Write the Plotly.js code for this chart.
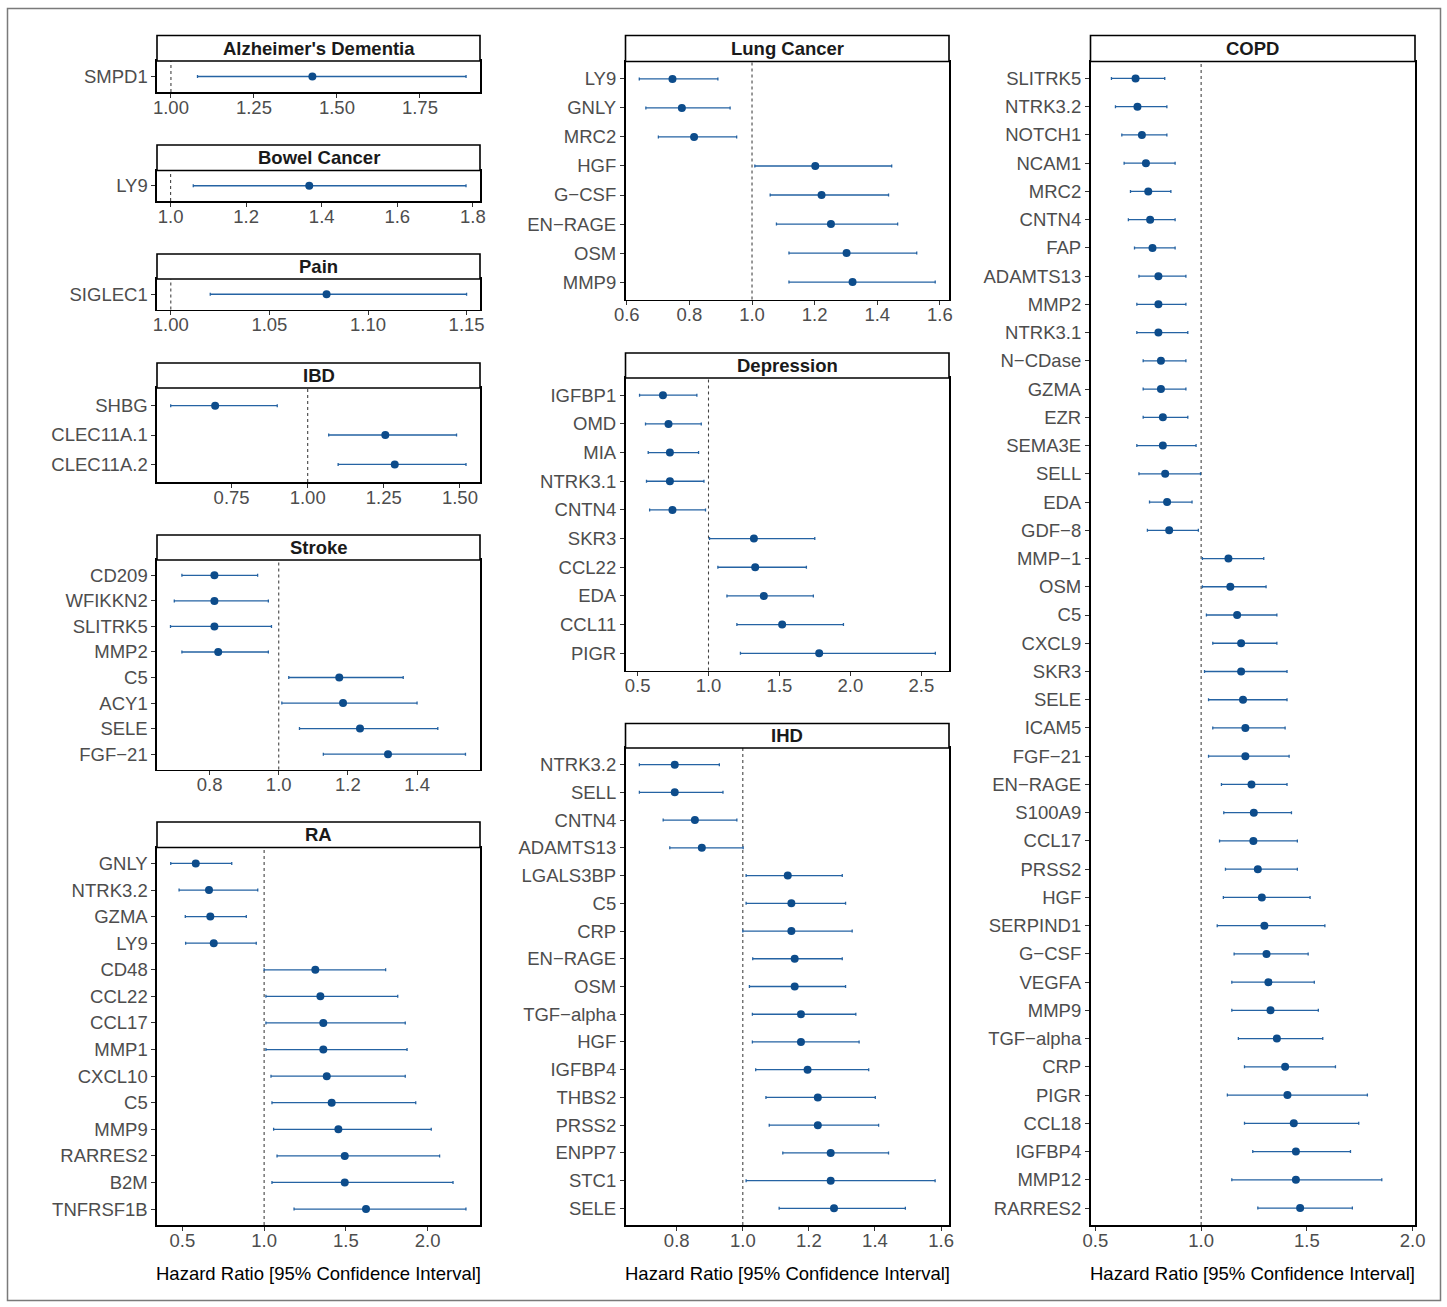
<!DOCTYPE html>
<html>
<head>
<meta charset="utf-8">
<script src="https://cdn.plot.ly/plotly-3.0.1.min.js"></script>
<style>html,body{margin:0;padding:0;background:#fff;}#chart{width:1447px;height:1307px;}</style>
</head>
<body>
<div id="chart"></div>
<script>
// ---------------- DATA ----------------
const alzNames = ["SMPD1"];
const alzHR = [1.426]; const alzLo = [1.080]; const alzHi = [1.889];

const bowelNames = ["LY9"];
const bowelHR = [1.367]; const bowelLo = [1.060]; const bowelHi = [1.782];

const painNames = ["SIGLEC1"];
const painHR = [1.079]; const painLo = [1.020]; const painHi = [1.150];

const ibdNames = ["SHBG", "CLEC11A.1", "CLEC11A.2"];
const ibdHR = [0.696, 1.255, 1.286];
const ibdLo = [0.550, 1.069, 1.100];
const ibdHi = [0.900, 1.489, 1.520];

const strokeNames = ["CD209", "WFIKKN2", "SLITRK5", "MMP2", "C5", "ACY1", "SELE", "FGF−21"];
const strokeHR = [0.814, 0.814, 0.814, 0.825, 1.175, 1.186, 1.235, 1.316];
const strokeLo = [0.720, 0.698, 0.687, 0.720, 1.029, 1.009, 1.060, 1.129];
const strokeHi = [0.939, 0.970, 0.979, 0.970, 1.360, 1.400, 1.460, 1.540];

const raNames = ["GNLY", "NTRK3.2", "GZMA", "LY9", "CD48", "CCL22", "CCL17", "MMP1", "CXCL10", "C5", "MMP9", "RARRES2", "B2M", "TNFRSF1B"];
const raHR = [0.582, 0.663, 0.671, 0.692, 1.313, 1.344, 1.362, 1.362, 1.383, 1.413, 1.454, 1.493, 1.493, 1.623];
const raLo = [0.429, 0.480, 0.518, 0.520, 1.000, 1.011, 1.011, 1.011, 1.042, 1.048, 1.058, 1.079, 1.048, 1.183];
const raHi = [0.802, 0.961, 0.891, 0.952, 1.743, 1.817, 1.863, 1.874, 1.863, 1.927, 2.022, 2.073, 2.155, 2.234];

const lungNames = ["LY9", "GNLY", "MRC2", "HGF", "G−CSF", "EN−RAGE", "OSM", "MMP9"];
const lungHR = [0.746, 0.776, 0.815, 1.202, 1.222, 1.252, 1.302, 1.321];
const lungLo = [0.640, 0.661, 0.701, 1.009, 1.058, 1.078, 1.118, 1.118];
const lungHi = [0.891, 0.930, 0.951, 1.446, 1.436, 1.465, 1.526, 1.585];

const depNames = ["IGFBP1", "OMD", "MIA", "NTRK3.1", "CNTN4", "SKR3", "CCL22", "EDA", "CCL11", "PIGR"];
const depHR = [0.679, 0.718, 0.728, 0.728, 0.746, 1.320, 1.329, 1.390, 1.519, 1.780];
const depLo = [0.514, 0.556, 0.575, 0.563, 0.585, 1.007, 1.066, 1.130, 1.200, 1.225];
const depHi = [0.918, 0.949, 0.930, 0.968, 0.979, 1.749, 1.690, 1.739, 1.951, 2.599];

const ihdNames = ["NTRK3.2", "SELL", "CNTN4", "ADAMTS13", "LGALS3BP", "C5", "CRP", "EN−RAGE", "OSM", "TGF−alpha", "HGF", "IGFBP4", "THBS2", "PRSS2", "ENPP7", "STC1", "SELE"];
const ihdHR = [0.794, 0.794, 0.855, 0.876, 1.136, 1.147, 1.147, 1.157, 1.157, 1.176, 1.176, 1.196, 1.227, 1.227, 1.266, 1.266, 1.276];
const ihdLo = [0.687, 0.687, 0.759, 0.779, 1.010, 1.010, 1.000, 1.030, 1.020, 1.029, 1.029, 1.039, 1.070, 1.080, 1.121, 1.010, 1.110];
const ihdHi = [0.929, 0.940, 0.982, 1.001, 1.301, 1.311, 1.331, 1.301, 1.311, 1.342, 1.352, 1.381, 1.401, 1.411, 1.441, 1.582, 1.492];

const copdNames = ["SLITRK5", "NTRK3.2", "NOTCH1", "NCAM1", "MRC2", "CNTN4", "FAP", "ADAMTS13", "MMP2", "NTRK3.1", "N−CDase", "GZMA", "EZR", "SEMA3E", "SELL", "EDA", "GDF−8", "MMP−1", "OSM", "C5", "CXCL9", "SKR3", "SELE", "ICAM5", "FGF−21", "EN−RAGE", "S100A9", "CCL17", "PRSS2", "HGF", "SERPIND1", "G−CSF", "VEGFA", "MMP9", "TGF−alpha", "CRP", "PIGR", "CCL18", "IGFBP4", "MMP12", "RARRES2"];
const copdHR = [0.690, 0.699, 0.720, 0.739, 0.750, 0.759, 0.770, 0.798, 0.798, 0.798, 0.810, 0.810, 0.819, 0.819, 0.830, 0.839, 0.849, 1.129, 1.138, 1.170, 1.189, 1.189, 1.198, 1.209, 1.209, 1.238, 1.249, 1.247, 1.268, 1.287, 1.299, 1.309, 1.318, 1.328, 1.358, 1.397, 1.408, 1.438, 1.448, 1.448, 1.468];
const copdLo = [0.576, 0.595, 0.625, 0.636, 0.666, 0.656, 0.685, 0.706, 0.696, 0.696, 0.726, 0.726, 0.726, 0.696, 0.706, 0.756, 0.746, 1.006, 1.006, 1.025, 1.055, 1.016, 1.035, 1.055, 1.035, 1.096, 1.107, 1.087, 1.115, 1.105, 1.076, 1.156, 1.145, 1.145, 1.176, 1.205, 1.124, 1.205, 1.244, 1.145, 1.268];
const copdHi = [0.828, 0.838, 0.838, 0.877, 0.857, 0.877, 0.877, 0.928, 0.928, 0.937, 0.928, 0.928, 0.937, 0.976, 0.997, 0.957, 0.987, 1.296, 1.307, 1.358, 1.358, 1.406, 1.406, 1.397, 1.416, 1.406, 1.427, 1.455, 1.455, 1.515, 1.585, 1.506, 1.535, 1.554, 1.575, 1.635, 1.786, 1.745, 1.706, 1.854, 1.715];

// tick labels
const ticksAlz = [1.00, 1.25, 1.50, 1.75];
const ticksBowel = [1.0, 1.2, 1.4, 1.6, 1.8];
const ticksPain = [1.00, 1.05, 1.10, 1.15];
const ticksIbd = [0.75, 1.00, 1.25, 1.50];
const ticksStroke = [0.8, 1.0, 1.2, 1.4];
const ticksRa = [0.5, 1.0, 1.5, 2.0];
const ticksLung = [0.6, 0.8, 1.0, 1.2, 1.4, 1.6];
const ticksDep = [0.5, 1.0, 1.5, 2.0, 2.5];
const ticksIhd = [0.8, 1.0, 1.2, 1.4, 1.6];
const ticksCopd = [0.5, 1.0, 1.5, 2.0];

const axisTitle = "Hazard Ratio [95% Confidence Interval]";

// ---------------- LAYOUT ----------------
const W = 1447, H = 1307;
const FONT = "Liberation Sans, Arial, Helvetica, sans-serif";
const FS = 18.5;
const PT_COLOR = "#0d4c8b";
const BAR_COLOR = "#2563a3";

const panels = [
  {title: "Alzheimer's Dementia", names: alzNames, hr: alzHR, lo: alzLo, hi: alzHi, ticks: ticksAlz, fmt: ".2f", range: [0.958, 1.931], x0: 157, x1: 480, st: 35.5, pt: 61, pb: 92},
  {title: "Bowel Cancer", names: bowelNames, hr: bowelHR, lo: bowelLo, hi: bowelHi, ticks: ticksBowel, fmt: ".1f", range: [0.964, 1.819], x0: 157, x1: 480, st: 145, pt: 170.5, pb: 201},
  {title: "Pain", names: painNames, hr: painHR, lo: painLo, hi: painHi, ticks: ticksPain, fmt: ".2f", range: [0.993, 1.1568], x0: 157, x1: 480, st: 254, pt: 279, pb: 309.5},
  {title: "IBD", names: ibdNames, hr: ibdHR, lo: ibdLo, hi: ibdHi, ticks: ticksIbd, fmt: ".2f", range: [0.505, 1.566], x0: 157, x1: 480, st: 363, pt: 388, pb: 482},
  {title: "Stroke", names: strokeNames, hr: strokeHR, lo: strokeLo, hi: strokeHi, ticks: ticksStroke, fmt: ".1f", range: [0.648, 1.582], x0: 157, x1: 480, st: 535, pt: 560, pb: 769.5},
  {title: "RA", names: raNames, hr: raHR, lo: raLo, hi: raHi, ticks: ticksRa, fmt: ".1f", range: [0.345, 2.320], x0: 157, x1: 480, st: 822, pt: 847.5, pb: 1225, xtitle: true},
  {title: "Lung Cancer", names: lungNames, hr: lungHR, lo: lungLo, hi: lungHi, ticks: ticksLung, fmt: ".1f", range: [0.596, 1.629], x0: 625.5, x1: 949, st: 35.5, pt: 61.5, pb: 299.5},
  {title: "Depression", names: depNames, hr: depHR, lo: depLo, hi: depHi, ticks: ticksDep, fmt: ".1f", range: [0.415, 2.695], x0: 625.5, x1: 949, st: 353, pt: 378, pb: 670.5},
  {title: "IHD", names: ihdNames, hr: ihdHR, lo: ihdLo, hi: ihdHi, ticks: ticksIhd, fmt: ".1f", range: [0.645, 1.624], x0: 625.5, x1: 949, st: 723.5, pt: 748, pb: 1225, xtitle: true},
  {title: "COPD", names: copdNames, hr: copdHR, lo: copdLo, hi: copdHi, ticks: ticksCopd, fmt: ".1f", range: [0.477, 2.011], x0: 1090.5, x1: 1415, st: 35.5, pt: 61.5, pb: 1225, xtitle: true}
];

const fx = px => px / W;
const fy = py => 1 - py / H;

const traces = [];
const layout = {
  width: W, height: H,
  margin: {l: 0, r: 0, t: 0, b: 0},
  paper_bgcolor: "#ffffff",
  plot_bgcolor: "#ffffff",
  showlegend: false,
  font: {family: FONT, size: FS, color: "#4d4d4d"},
  shapes: [],
  annotations: []
};

layout.shapes.push({type: "rect", xref: "paper", yref: "paper", x0: fx(7.5), x1: fx(1440.5), y0: fy(1300.5), y1: fy(8.5), line: {color: "#7a7a7a", width: 1.5}, fillcolor: "rgba(0,0,0,0)", layer: "below"});

panels.forEach((p, i) => {
  const n = i + 1;
  const xa = n === 1 ? "xaxis" : "xaxis" + n;
  const ya = n === 1 ? "yaxis" : "yaxis" + n;
  const xr = n === 1 ? "x" : "x" + n;
  const yr = n === 1 ? "y" : "y" + n;
  const k = p.names.length;

  layout[xa] = {
    domain: [fx(p.x0), fx(p.x1)],
    anchor: yr,
    range: p.range,
    tickvals: p.ticks,
    tickformat: p.fmt,
    ticks: "outside", ticklen: 4, tickwidth: 1, tickcolor: "#333333",
    showgrid: false, zeroline: false,
    showline: true, mirror: true, linecolor: "#000000", linewidth: 1.6,
    tickfont: {family: FONT, size: FS, color: "#4d4d4d"},
    ticklabelstandoff: -6,
    fixedrange: true
  };
  layout[ya] = {
    domain: [fy(p.pb), fy(p.pt)],
    anchor: xr,
    type: "category",
    categoryorder: "array",
    categoryarray: p.names,
    range: [k - 0.4, -0.6],
    ticks: "outside", ticklen: 4, tickwidth: 1, tickcolor: "#333333",
    showgrid: false, zeroline: false,
    showline: true, mirror: true, linecolor: "#000000", linewidth: 1.6,
    tickfont: {family: FONT, size: FS, color: "#4d4d4d"},
    ticklabelstandoff: 0,
    fixedrange: true
  };

  layout.shapes.push({type: "line", xref: xr, yref: yr + " domain", x0: 1, x1: 1, y0: 0, y1: 1, line: {color: "#444444", width: 1.1, dash: "dot"}, layer: "below"});

  layout.shapes.push({type: "rect", xref: "paper", yref: "paper", x0: fx(p.x0), x1: fx(p.x1), y0: fy(p.pt), y1: fy(p.st), line: {color: "#000000", width: 1.6}, fillcolor: "#ffffff"});
  layout.annotations.push({xref: "paper", yref: "paper", x: (fx(p.x0) + fx(p.x1)) / 2, y: (fy(p.pt) + fy(p.st)) / 2, text: "<b>" + p.title + "</b>", showarrow: false, xanchor: "center", yanchor: "middle", font: {family: FONT, size: FS, color: "#1a1a1a"}});

  if (p.xtitle) {
    layout.annotations.push({xref: "paper", yref: "paper", x: (fx(p.x0) + fx(p.x1)) / 2, y: fy(1273), text: axisTitle, showarrow: false, xanchor: "center", yanchor: "middle", font: {family: FONT, size: FS, color: "#000000"}});
  }

  traces.push({
    type: "scatter", mode: "markers",
    x: p.hr, y: p.names,
    xaxis: xr, yaxis: yr,
    marker: {color: PT_COLOR, size: 8, line: {width: 0}},
    error_x: {type: "data", symmetric: false,
      array: p.hi.map((h, j) => h - p.hr[j]),
      arrayminus: p.lo.map((l, j) => p.hr[j] - l),
      color: BAR_COLOR, thickness: 1.3, width: 1.5},
    hoverinfo: "x+y"
  });
});

Plotly.newPlot("chart", traces, layout, {displayModeBar: false, staticPlot: true});
</script>
</body>
</html>
